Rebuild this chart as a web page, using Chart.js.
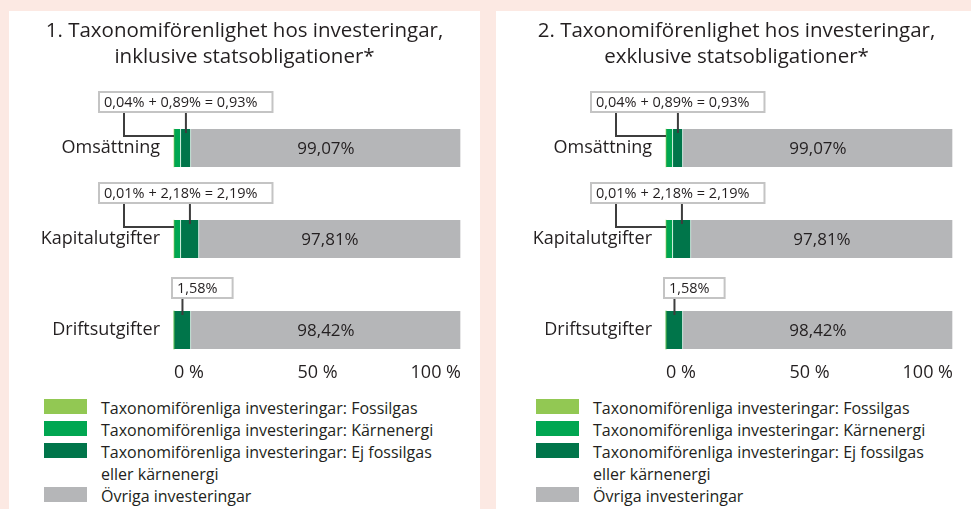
<!DOCTYPE html>
<html>
<head>
<meta charset="utf-8">
<script src="https://cdn.jsdelivr.net/npm/chart.js@4"></script>
<style>
  body { margin: 0; background: #fce9e3; width: 971px; height: 509px; overflow: hidden; position: relative; font-family: "Open Sans", sans-serif; color: #231f20; }
  .panel { position: absolute; top: 11px; height: 498px; background: #fff; }
  .inner { position: absolute; top: 0; width: 471px; height: 498px; }
  canvas { position: absolute; left: 0; top: 0; }
  .legend { position: absolute; left: 35px; top: 386px; font-size: 16px; line-height: 22px; }
  .legend .row { display: flex; align-items: flex-start; }
  .legend .sw { width: 43px; height: 15px; margin-top: 2px; margin-right: 14px; flex: none; }
  .legend .tx { white-space: pre-line; }
</style>
</head>
<body>
<div class="panel" style="left:9px;width:471px"><div class="inner" style="left:0">
  <canvas id="c1" width="471" height="380"></canvas><div class="legend" id="l1"></div>
</div></div>
<div class="panel" style="left:496px;width:480px"><div class="inner" style="left:5px">
  <canvas id="c2" width="471" height="380"></canvas><div class="legend" id="l2"></div>
</div></div>
<script>
// categories and series
const categories = ['Omsättning', 'Kapitalutgifter', 'Driftsutgifter'];
const seriesNames = [
  'Taxonomiförenliga investeringar: Fossilgas',
  'Taxonomiförenliga investeringar: Kärnenergi',
  'Taxonomiförenliga investeringar: Ej fossilgas\neller kärnenergi',
  'Övriga investeringar'
];
const seriesColors = ['#92c853', '#00a651', '#00754a', '#b5b6b8'];

// reported shares (%)
const nuclearPct = [0.04, 0.01, 0];
const alignedPct = [0.89, 2.18, 1.58];
const otherPct = [99.07, 97.81, 98.42];

// bar lengths as drawn in the original (small shares are enlarged there)
const fossilBar = [0, 0, 0];
const nuclearBar = [2.4, 2.4, 0];
const alignedBar = [3.5, 6.3, 5.9];
const otherBar = [94.1, 91.3, 94.1];

const xTicks = [0, 50, 100];

const titles = [
  ['1. Taxonomiförenlighet hos investeringar,', 'inklusive statsobligationer*'],
  ['2. Taxonomiförenlighet hos investeringar,', 'exklusive statsobligationer*']
];

const FONT = 'Open Sans';
const pct = v => v.toFixed(2).replace('.', ',') + '%';

function calloutText(i) {
  if (nuclearPct[i] > 0) {
    return pct(nuclearPct[i]) + ' + ' + pct(alignedPct[i]) + ' = ' + pct(nuclearPct[i] + alignedPct[i]);
  }
  return pct(alignedPct[i]);
}

const callouts = {
  id: 'callouts',
  afterDraw(chart) {
    const ctx = chart.ctx;
    const x0 = chart.scales.x.getPixelForValue(0);
    const alnMeta = chart.getDatasetMeta(2);
    const othMeta = chart.getDatasetMeta(3);
    ctx.save();
    categories.forEach((c, i) => {
      const aln = alnMeta.data[i];
      const top = aln.y - aln.height / 2;
      const alnMid = (aln.x + aln.base) / 2;
      const split = nuclearPct[i] > 0;
      const text = calloutText(i);
      ctx.font = '14.5px "' + FONT + '"';
      const tw = ctx.measureText(text).width;
      const bw = tw + 20, bh = 20;
      const bx = split ? x0 - 75 : x0 - 2;
      const by = top - (split ? 17 : 13) - bh;

      ctx.strokeStyle = '#3d3d3d';
      ctx.lineWidth = 2;
      ctx.beginPath();
      if (split) {
        ctx.moveTo(x0 - 50, by + bh);
        ctx.lineTo(x0 - 50, top + 7);
        ctx.lineTo(x0, top + 7);
      }
      ctx.moveTo(alnMid, by + bh);
      ctx.lineTo(alnMid, top + 4);
      ctx.stroke();

      ctx.fillStyle = '#fff';
      ctx.fillRect(bx, by, bw, bh);
      ctx.strokeStyle = '#c4c4c4';
      ctx.strokeRect(bx, by, bw, bh);
      ctx.fillStyle = '#231f20';
      ctx.textBaseline = 'middle';
      ctx.textAlign = 'left';
      ctx.fillText(text, bx + 5, by + bh / 2 + 1);

      const o = othMeta.data[i];
      ctx.font = '17px "' + FONT + '"';
      ctx.textAlign = 'center';
      ctx.fillText(pct(otherPct[i]), (o.x + o.base) / 2, o.y + 1);
    });
    ctx.restore();
  }
};

function makeChart(id, title) {
  const bars = [fossilBar, nuclearBar, alignedBar, otherBar];
  new Chart(document.getElementById(id), {
    type: 'bar',
    data: {
      labels: categories,
      datasets: bars.map((d, k) => ({
        label: seriesNames[k],
        data: d,
        backgroundColor: seriesColors[k],
        borderColor: '#fff',
        borderWidth: { left: 0, top: 0, bottom: 0, right: 1 },
        borderSkipped: false,
        barThickness: 38,
        clip: false
      }))
    },
    options: {
      indexAxis: 'y',
      responsive: false,
      animation: false,
      devicePixelRatio: 1,
      layout: { padding: { left: 19, right: 19, top: 0, bottom: 0 } },
      plugins: {
        legend: { display: false },
        tooltip: { enabled: false },
        title: {
          display: true,
          text: title,
          color: '#231f20',
          font: { family: FONT, size: 20.5, weight: 'normal', lineHeight: 26 / 20.5 },
          padding: { top: 7, bottom: 78 }
        }
      },
      scales: {
        x: {
          stacked: true,
          min: 0, max: 100,
          grid: { display: false, drawTicks: false },
          border: { display: false },
          afterBuildTicks: s => { s.ticks = xTicks.map(v => ({ value: v })); },
          afterFit: s => { s.height = 61; s.paddingLeft = 0; s.paddingRight = 0; },
          ticks: {
            align: 'inner',
            padding: 32,
            color: '#231f20',
            font: { family: FONT, size: 18 },
            callback: v => v + ' %'
          }
        },
        y: {
          stacked: true,
          offset: false,
          grid: { display: false, drawTicks: false },
          border: { display: false },
          afterFit: s => { s.width = 146; },
          ticks: {
            padding: 14,
            color: '#231f20',
            font: { family: FONT, size: 18 }
          }
        }
      }
    },
    plugins: [callouts]
  });
}

function makeLegend(id) {
  const el = document.getElementById(id);
  seriesNames.forEach((name, k) => {
    const row = document.createElement('div');
    row.className = 'row';
    const sw = document.createElement('div');
    sw.className = 'sw';
    sw.style.background = seriesColors[k];
    const tx = document.createElement('div');
    tx.className = 'tx';
    tx.textContent = name;
    row.appendChild(sw);
    row.appendChild(tx);
    el.appendChild(row);
  });
}

makeChart('c1', titles[0]);
makeChart('c2', titles[1]);
makeLegend('l1');
makeLegend('l2');
</script>
</body>
</html>
